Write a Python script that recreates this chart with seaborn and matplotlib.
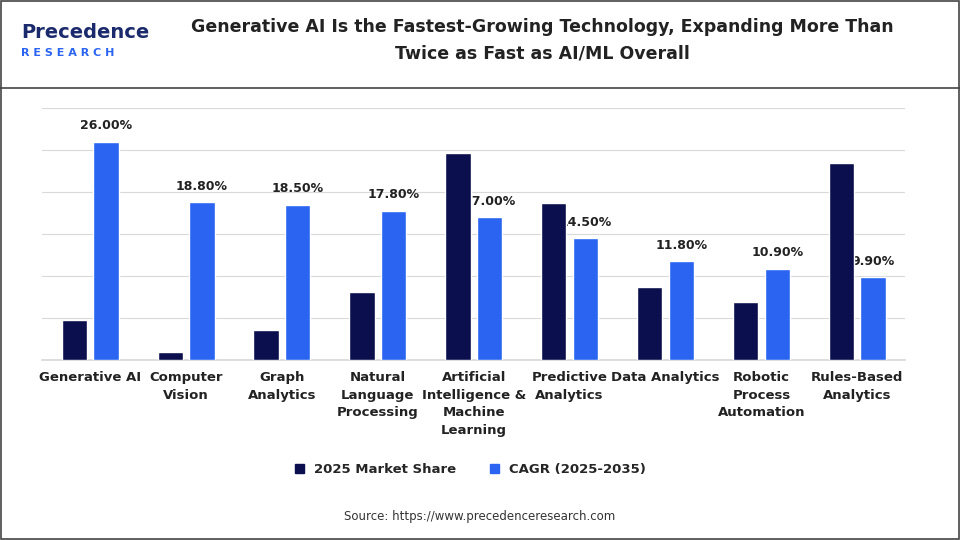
import matplotlib.pyplot as plt
import seaborn as sns
import pandas as pd
from matplotlib.patches import Patch

categories = ['Generative AI', 'Computer\nVision', 'Graph\nAnalytics', 'Natural\nLanguage\nProcessing',
              'Artificial\nIntelligence &\nMachine\nLearning', 'Predictive\nAnalytics', 'Data Analytics',
              'Robotic\nProcess\nAutomation', 'Rules-Based\nAnalytics']
market_share = [4.8, 1.0, 3.6, 8.1, 24.6, 18.7, 8.7, 6.9, 23.4]
cagr = [26.0, 18.8, 18.5, 17.8, 17.0, 14.5, 11.8, 10.9, 9.9]
series = ['2025 Market Share', 'CAGR (2025-2035)']
colors = ['#0b0f4d', '#2a64f0']

df = pd.DataFrame({
    'cat': categories * 2,
    'val': market_share + cagr,
    'series': [series[0]] * 9 + [series[1]] * 9,
})

sns.set_theme(style='white')
plt.rcParams['font.family'] = ['DejaVu Sans']

fig = plt.figure(figsize=(9.6, 5.4), dpi=100)
ax = fig.add_axes([0.044, 0.333, 0.899, 0.467])
sns.barplot(data=df, x='cat', y='val', hue='series', palette=colors, saturation=1,
            width=0.66, gap=0.2, ax=ax, legend=False, zorder=3)
ax.set_ylim(0, 30)
ax.set_yticks([0, 5, 10, 15, 20, 25, 30])
ax.yaxis.grid(True, color='#d9d9d9', lw=0.8, zorder=0)
ax.set_yticklabels([])
ax.tick_params(axis='y', length=0)
ax.set_xlabel('')
ax.set_ylabel('')
for s in ['top', 'right', 'left']:
    ax.spines[s].set_visible(False)
ax.spines['bottom'].set_color('#d9d9d9')
ax.set_xticks(range(9))
ax.set_xticklabels(categories, fontsize=9.5, fontweight='bold', va='top', linespacing=1.45, color='#222222')
ax.tick_params(axis='x', length=0, pad=8)

cont = ax.containers[1]
for bar, v in zip(cont, cagr):
    ax.text(bar.get_x() + bar.get_width() / 2, v + 1.1, f'{v:.2f}%', ha='center', va='bottom',
            fontsize=9, fontweight='bold', zorder=2, color='#222222')

handles = [Patch(color=colors[0]), Patch(color=colors[1])]
fig.legend(handles, series, loc='center', bbox_to_anchor=(0.49, 0.13), ncol=2, frameon=False,
           prop={'weight': 'bold', 'size': 9.5}, handlelength=0.7, handleheight=0.7, columnspacing=2.5)

fig.text(0.565, 0.925, 'Generative AI Is the Fastest-Growing Technology, Expanding More Than\nTwice as Fast as AI/ML Overall',
         ha='center', va='center', fontsize=12.5, fontweight='bold', color='#222222', linespacing=1.6)
fig.text(0.022, 0.94, 'Precedence', fontsize=14, fontweight='bold', color='#1a2a6c', va='center')
fig.text(0.022, 0.902, 'R E S E A R C H', fontsize=8, fontweight='bold', color='#2a64f0', va='center')
fig.text(0.5, 0.043, 'Source: https://www.precedenceresearch.com', ha='center', va='center', fontsize=8.5, color='#333333')
fig.add_artist(plt.Line2D([0, 1], [0.837, 0.837], color='#444444', lw=1.2))
fig.add_artist(plt.Rectangle((0.001, 0.002), 0.998, 0.996, fill=False, edgecolor='#444444', lw=1.2))

fig.savefig('out.png', dpi=100)
